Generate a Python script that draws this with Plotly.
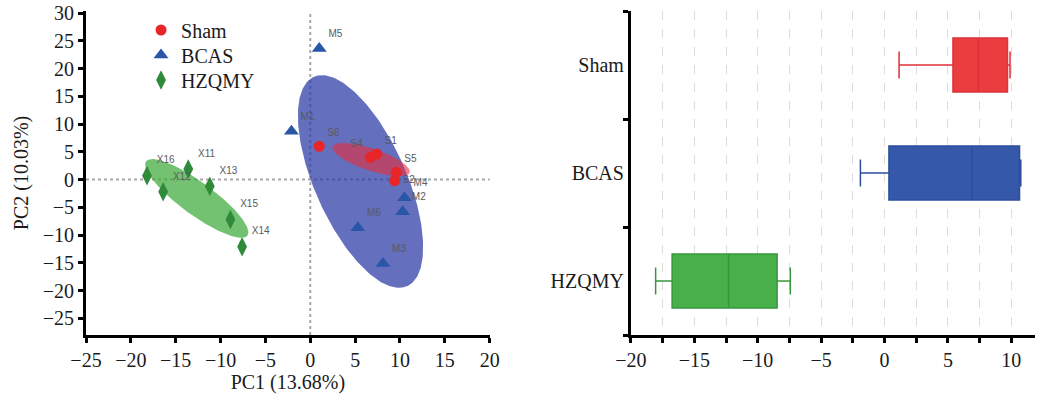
import numpy as np
import plotly.graph_objects as go

# ---------------- data ----------------
groups = ["Sham", "BCAS", "HZQMY"]

sham_labels = ["S1", "S2", "S4", "S5", "S6"]
sham_pc1 = [7.4, 9.4, 6.7, 9.6, 1.0]
sham_pc2 = [4.6, -0.2, 4.0, 1.3, 6.0]

bcas_labels = ["M1", "M2", "M3", "M4", "M5", "M6"]
bcas_pc1 = [-2.1, 10.3, 8.1, 10.5, 1.0, 5.3]
bcas_pc2 = [8.7, -5.8, -15.1, -3.3, 23.6, -8.7]

hz_labels = ["X11", "X12", "X13", "X14", "X15", "X16"]
hz_pc1 = [-13.6, -16.4, -11.2, -7.6, -8.9, -18.2]
hz_pc2 = [1.9, -2.2, -1.2, -12.1, -7.2, 0.7]

# confidence ellipses (Sham, BCAS, HZQMY): centre, semi-axes, angle (deg)
ell_cx = [6.78, 5.6, -12.65]
ell_cy = [3.59, -0.35, -3.4]
ell_a = [4.93, 19.67, 8.83]
ell_b = [1.84, 5.35, 2.34]
ell_ang = [-31.3, -76.3, -51.9]

# box-plot statistics of PC1 per group (Sham, BCAS, HZQMY)
box_lower = [1.15, -1.9, -18.05]
box_q1 = [5.4, 0.35, -16.75]
box_median = [7.4, 6.9, -12.3]
box_q3 = [9.7, 10.65, -8.47]
box_upper = [9.9, 10.75, -7.43]

# ---------------- styles ----------------
ell_fill = ["rgba(232,45,60,0.6)", "rgba(40,55,165,0.72)", "rgba(60,170,60,0.72)"]
mk_color = ["#E8262A", "#2A56A8", "#2F8A3A"]
mk_symbol = ["circle", "triangle-up", "diamond-tall"]
mk_size = [11, 13, 14]
box_fill = ["#EB3C40", "#3558A8", "#47B04B"]
box_line = ["rgb(222,50,56)", "rgb(45,78,158)", "rgb(55,150,60)"]
legend_ids = ["legend", "legend2", "legend3"]
sham_textpos = ["top right", "middle right", "top left", "top right", "top right"]

SERIF = "Liberation Serif"
fig = go.Figure()

# ellipses: BCAS first, then Sham, then HZQMY
t = np.linspace(0, 2 * np.pi, 240)
for i in [1, 0, 2]:
    th = np.deg2rad(ell_ang[i])
    ex = ell_cx[i] + ell_a[i] * np.cos(t) * np.cos(th) - ell_b[i] * np.sin(t) * np.sin(th)
    ey = ell_cy[i] + ell_a[i] * np.cos(t) * np.sin(th) + ell_b[i] * np.sin(t) * np.cos(th)
    fig.add_trace(go.Scatter(x=ex, y=ey, mode="lines", fill="toself",
                             fillcolor=ell_fill[i], line=dict(width=0),
                             hoverinfo="skip", showlegend=False,
                             xaxis="x", yaxis="y"))

pts = [(sham_pc1, sham_pc2, sham_labels, sham_textpos),
       (bcas_pc1, bcas_pc2, bcas_labels, "top right"),
       (hz_pc1, hz_pc2, hz_labels, "top right")]
for i, (xs, ys, labs, tpos) in enumerate(pts):
    fig.add_trace(go.Scatter(
        x=xs, y=ys, text=labs, mode="markers+text", name=groups[i],
        textposition=tpos, legend=legend_ids[i],
        textfont=dict(family="Liberation Sans", size=10, color="#5a5a5a"),
        marker=dict(color=mk_color[i], symbol=mk_symbol[i], size=mk_size[i]),
        xaxis="x", yaxis="y"))

# box plots
for i, g in enumerate(groups):
    fig.add_trace(go.Box(
        y=[g], q1=[box_q1[i]], median=[box_median[i]], q3=[box_q3[i]],
        lowerfence=[box_lower[i]], upperfence=[box_upper[i]],
        orientation="h", width=0.5, whiskerwidth=0.5,
        fillcolor=box_fill[i], line=dict(color=box_line[i], width=1.5),
        boxpoints=False, showlegend=False, hoverinfo="skip",
        xaxis="x2", yaxis="y2"))

axis_common = dict(showline=True, linecolor="black", linewidth=3,
                   ticks="outside", ticklen=5, tickwidth=3, tickcolor="black",
                   zeroline=False, mirror=False,
                   tickfont=dict(family=SERIF, size=20, color="#1a1a1a"))

def leg(yc):
    return dict(x=0.058, y=yc, xanchor="left", yanchor="middle",
                bgcolor="rgba(0,0,0,0)", font=dict(family=SERIF, size=20),
                itemsizing="trace")

fig.update_layout(
    width=1045, height=398,
    margin=dict(l=86, r=0, t=11, b=63),
    paper_bgcolor="white", plot_bgcolor="white",
    font=dict(family=SERIF, size=20, color="#1a1a1a"),
    showlegend=True,
    legend=leg(0.9414), legend2=leg(0.8642), legend3=leg(0.787),
    boxmode="overlay",
    xaxis=dict(domain=[0, 0.4254], range=[-25, 20], tick0=-25, dtick=5,
               showgrid=False, anchor="y",
               title=dict(text="PC1 (13.68%)", standoff=2,
                          font=dict(family=SERIF, size=20)),
               **axis_common),
    yaxis=dict(domain=[0, 1], range=[-28, 30.36], tick0=0, dtick=5,
               showgrid=False, anchor="x",
               title=dict(text="PC2 (10.03%)", standoff=9,
                          font=dict(family=SERIF, size=20)),
               **axis_common),
    xaxis2=dict(domain=[0.5742, 1], range=[-20, 11.87], tick0=-20, dtick=5,
                anchor="y2", showgrid=True, gridcolor="#dcdcdc", gridwidth=1,
                griddash="dash",
                minor=dict(dtick=2.5, ticks="outside", ticklen=5, tickwidth=3,
                           tickcolor="black", showgrid=True, gridcolor="#dcdcdc",
                           gridwidth=1, griddash="dash"),
                **axis_common),
    yaxis2=dict(domain=[0, 1], anchor="x2", type="category",
                categoryorder="array", categoryarray=["HZQMY", "BCAS", "Sham"],
                range=[-0.5, 2.5], tickson="boundaries", showgrid=False,
                **axis_common),
    shapes=[
        dict(type="line", xref="x", yref="y domain", x0=0, x1=0, y0=0, y1=1,
             line=dict(color="#a8a8a8", width=2, dash="dot"), layer="below"),
        dict(type="line", xref="x domain", yref="y", x0=0, x1=1, y0=0, y1=0,
             line=dict(color="#a8a8a8", width=2, dash="dot"), layer="below"),
    ],
)

fig.write_html("out.html")
